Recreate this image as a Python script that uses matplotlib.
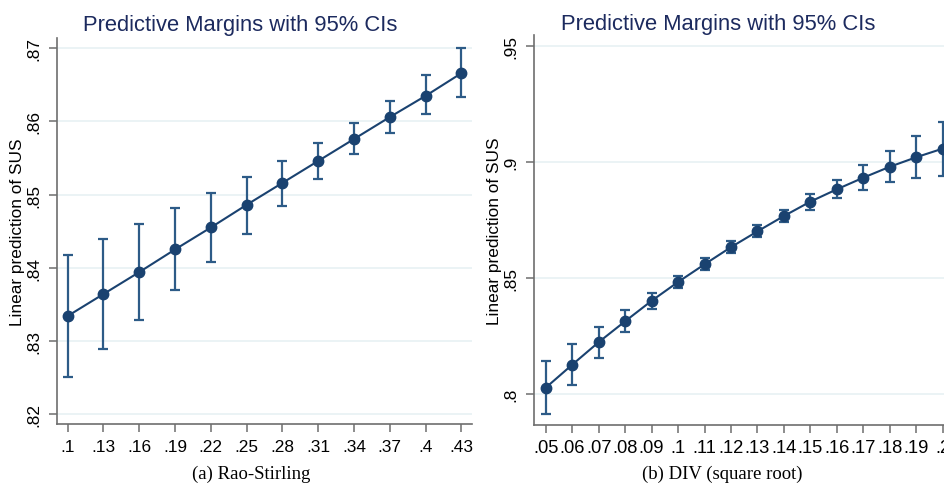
import matplotlib.pyplot as plt
import numpy as np

plt.rcParams['font.family'] = ['Liberation Sans', 'DejaVu Sans']

# (a) Rao-Stirling
rs_x = [.1, .13, .16, .19, .22, .25, .28, .31, .34, .37, .4, .43]
rs_y = [.8334, .8364, .8394, .8425, .8455, .8486, .8516, .8546, .8576, .8606, .8635, .8666]
rs_lo = [.8251, .8289, .8329, .8369, .8408, .8446, .8485, .8521, .8555, .8584, .8610, .8633]
rs_hi = [.8418, .8439, .8460, .8481, .8502, .8524, .8546, .8571, .8598, .8628, .8663, .8700]
rs_xticks = rs_x
rs_yticks = [.82, .83, .84, .85, .86, .87]

# (b) DIV (square root)
div_x = [.05, .06, .07, .08, .09, .1, .11, .12, .13, .14, .15, .16, .17, .18, .19, .2]
div_y = [.8028, .8127, .8224, .8314, .8402, .8483, .8559, .8633, .8701, .8767,
         .8829, .8882, .8932, .8979, .9020, .9057]
div_lo = [.7915, .8039, .8156, .8267, .8367, .8456, .8536, .8609, .8677, .8740,
          .8794, .8843, .8879, .8912, .8931, .8941]
div_hi = [.8145, .8218, .8288, .8363, .8435, .8509, .8585, .8658, .8727, .8794,
          .8861, .8922, .8987, .9048, .9111, .9173]
div_xticks = div_x
div_yticks = [.8, .85, .9, .95]

line_col = '#1a4270'
ci_col = '#2d5b87'
title_col = '#1c2a5e'
spine_col = '#6e6e6e'
grid_col = '#e8f1f3'


def fmt(v):
    s = ('%.2f' % v).rstrip('0')
    return s[1:] if s.startswith('0') else s


def panel(ax, x, y, lo, hi, xticks, yticks, xlim, ylim, xsize):
    x = np.array(x)
    y = np.array(y)
    err = [y - np.array(lo), np.array(hi) - y]
    ax.errorbar(x, y, yerr=err, fmt='none', ecolor=ci_col, elinewidth=1.6,
                capsize=3.4, capthick=1.6, zorder=3)
    ax.plot(x, y, '-', color=line_col, lw=1.5, zorder=4)
    ax.plot(x, y, 'o', color=line_col, ms=7.5, zorder=5)
    ax.set_xlim(*xlim)
    ax.set_ylim(*ylim)
    ax.set_xticks(xticks)
    ax.set_xticklabels([fmt(v) for v in xticks])
    ax.set_yticks(yticks)
    ax.set_yticklabels([fmt(v) for v in yticks], rotation=90, va='center')
    for s in ['top', 'right']:
        ax.spines[s].set_visible(False)
    for s in ['left', 'bottom']:
        ax.spines[s].set_color(spine_col)
        ax.spines[s].set_linewidth(1.2)
    ax.tick_params(axis='both', colors=spine_col, labelcolor='black',
                   length=5.5, width=1.1)
    ax.tick_params(axis='x', pad=5, labelsize=xsize)
    ax.tick_params(axis='y', pad=6, labelsize=12.4)
    ax.grid(axis='y', color=grid_col, lw=1.2)
    ax.set_axisbelow(True)
    ax.set_ylabel('Linear prediction of SUS', fontsize=12.4)


fig = plt.figure(figsize=(9.45, 4.85), dpi=100)

ax1 = fig.add_axes([0.0603, 0.1237, 0.4392, 0.7959])
panel(ax1, rs_x, rs_y, rs_lo, rs_hi, rs_xticks, rs_yticks,
      (.09103, .43889), (.81863, .87141), 12.4)
ax1.yaxis.set_label_coords(-0.077, 0.5)

ax2 = fig.add_axes([0.5654, 0.1223, 0.4346, 0.8035])
panel(ax2, div_x, div_y, div_lo, div_hi, div_xticks, div_yticks,
      (.04569, .20085), (.7869, .9546), 13.2)
ax2.yaxis.set_label_coords(-0.078, 0.5)

fig.text(240 / 945, 1 - 31 / 485, 'Predictive Margins with 95% CIs', ha='center',
         va='baseline', fontsize=15.8, color=title_col)
fig.text(718 / 945, 1 - 30 / 485, 'Predictive Margins with 95% CIs', ha='center',
         va='baseline', fontsize=15.8, color=title_col)

fig.text(251 / 945, 1 - 474 / 485, '(a) Rao-Stirling', ha='center', va='center',
         fontsize=13.5, family=['Liberation Serif', 'DejaVu Serif'])
fig.text(722 / 945, 1 - 474 / 485, '(b) DIV (square root)', ha='center', va='center',
         fontsize=13.5, family=['Liberation Serif', 'DejaVu Serif'])

plt.savefig('out.png', dpi=100)
